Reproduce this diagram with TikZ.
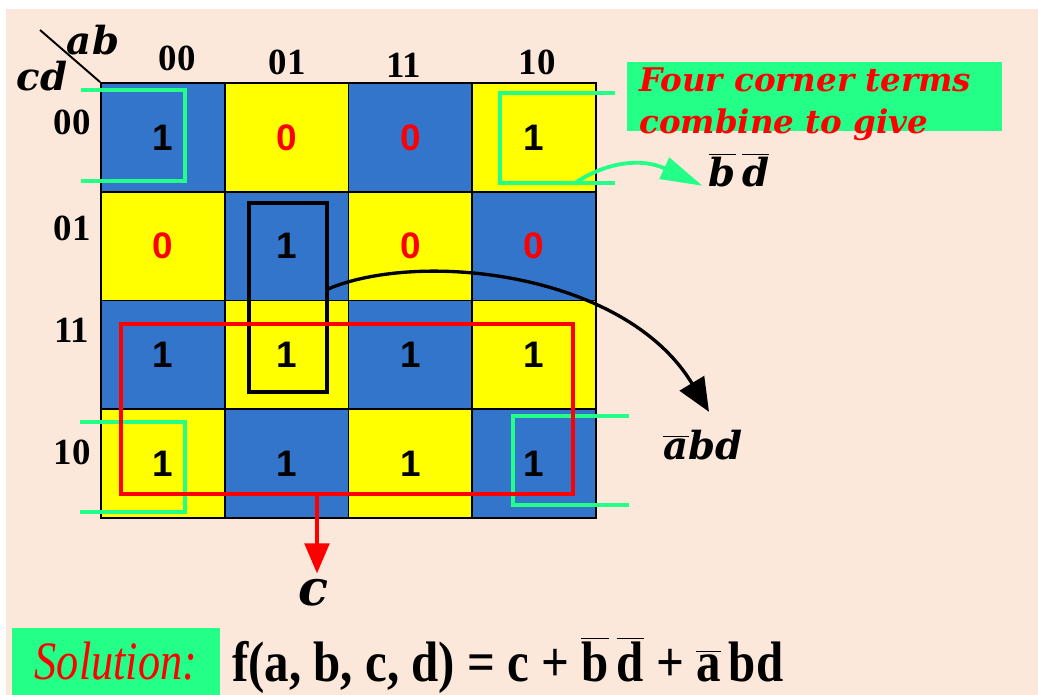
\documentclass[tikz,border=0pt]{standalone}
\usepackage{fontspec}
\setmainfont{Liberation Serif}
\newfontfamily\cellfont{Liberation Sans}
\newfontfamily\termfont{DejaVu Serif}
\usetikzlibrary{arrows.meta}
\definecolor{peach}{RGB}{252,232,218}
\definecolor{kblue}{RGB}{52,117,204}
\definecolor{kyellow}{RGB}{255,255,0}
\definecolor{kgreen}{RGB}{36,255,136}
\newcommand{\ovl}[1]{$\overline{\hbox{#1}}$}
\begin{document}
\begin{tikzpicture}[x=0.02cm, y=-0.02cm,
   cell/.style={draw, line width=1.1pt, minimum width=2.475cm, minimum height=2.175cm,
      inner sep=0pt, font=\cellfont\bfseries\fontsize{21}{21}\selectfont},
   lbl/.style={font=\bfseries\fontsize{21}{21}\selectfont},
   term/.style={font=\termfont\bfseries\itshape\fontsize{22}{22}\selectfont},
   group/.style={kgreen, line width=2.2pt}]
   \useasboundingbox (0,0) rectangle (1038,695);
   \fill[white] (0,0) rectangle (1038,695);
   \fill[peach] (6,9) rectangle (1038,695);

   % K-map cells
   \foreach \v [count=\k from 0] in {1,0,0,1, 0,1,0,0, 1,1,1,1, 1,1,1,1} {
      \pgfmathtruncatemacro\row{floor(\k/4)}
      \pgfmathtruncatemacro\col{mod(\k,4)}
      \pgfmathtruncatemacro\chk{mod(\row+\col,2)}
      \ifnum\chk=0 \def\cfill{kblue}\else\def\cfill{kyellow}\fi
      \ifnum\v=0 \def\tcol{red}\else\def\tcol{black}\fi
      \node[cell, fill=\cfill, text=\tcol] (k\row\col)
         at ({101+123.75*(\col+0.5)}, {83+108.75*(\row+0.5)}) {\v};
   }

   % headings
   \foreach \lab/\x/\y [count=\i] in {00/177/58, 01/287/62, 11/404/65, 10/537/62} {
      \node[lbl] (col\i) at (\x,\y) {\lab};
   }
   \foreach \lab/\y [count=\i] in {00/122, 01/228, 11/330, 10/452} {
      \node[lbl] (row\i) at (72,\y) {\lab};
   }
   \draw[line width=1.1pt] (40,30) -- (k00.north west);
   \node[term] (ab) at (93,40) {ab};
   \node[term] (cd) at (42,76) {cd};

   % corner groups
   \draw[group] (81,90) -| (185,181) -- (81,181);
   \draw[group] (615,93) -| (500,183) -- (615,183);
   \draw[group] (80,422) -| (185,512) -- (80,512);
   \draw[group] (629,416) -| (513,505) -- (629,505);
   \node[fill=kgreen, minimum width=7.5cm, minimum height=1.38cm, anchor=north west]
      (notebox) at (627,62) {};
   \node[term, red, align=left, anchor=north west, font=\termfont\bfseries\itshape\fontsize{18.5}{23.5}\selectfont]
      (note) at (633,62) {Four corner terms\\combine to give};
   \coordinate (bdstart) at (575,183);
   \node[term] (bd) at (739,170) {\ovl{b}\,\ovl{d}};
   \draw[kgreen, line width=2.2pt, -{Triangle[width=13pt,length=24pt]}]
      (bdstart) .. controls (605,163) and (640,157) .. ([yshift=-9pt]bd.west);

   % column group
   \draw[line width=1.9pt] (249,203) rectangle (327,392);
   \coordinate (abdstart) at (328,289);
   \node[term] (abd) at (703,445) {\ovl{a}bd};
   \draw[line width=1.9pt, -{Triangle[width=16pt,length=19pt]}]
      (abdstart) .. controls (420,250) and (625,272) .. ([shift={(6,-12)}]abd.north);

   % bottom rows
   \draw[red, line width=1.9pt] (121,324) rectangle (573,494);
   \coordinate (cstart) at (317,494);
   \node[term, font=\termfont\bfseries\itshape\fontsize{28}{28}\selectfont] (cterm) at (313,593) {c};
   \draw[red, line width=1.9pt, -{Triangle[width=14pt,length=17pt]}] (cstart) -- (cstart |- cterm.north);

   % solution
   \node[fill=kgreen, minimum width=4.16cm, minimum height=1.34cm, text=red,
      font=\itshape\fontsize{28}{28}\selectfont] (sol) at (116,661.5) {\scalebox{0.9}[1.1]{Solution:}};
   \node[anchor=base west, font=\bfseries\fontsize{29}{29}\selectfont] (fx) at (226,681)
      {\scalebox{0.96}[1.12]{f(a, b, c, d) = c + \ovl{b}\,\ovl{d} + \ovl{a}\,bd}};
\end{tikzpicture}
\end{document}
